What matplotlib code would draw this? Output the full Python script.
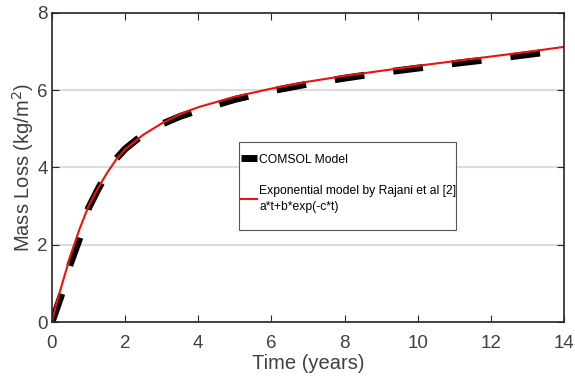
import matplotlib.pyplot as plt
from matplotlib.patches import Rectangle

plt.rcParams['font.family'] = ['Liberation Sans', 'DejaVu Sans']

# COMSOL model (black dashed)
t_comsol = [0, 0.25, 0.5, 0.75, 1, 1.25, 1.5, 1.75, 2, 2.5, 3, 3.5, 4, 5, 6, 7, 8, 9, 10, 11, 12, 13, 14]
m_comsol = [0, 0.68, 1.5, 2.15, 2.95, 3.42, 3.85, 4.22, 4.48, 4.86, 5.12, 5.32, 5.48, 5.76, 5.98, 6.16, 6.31, 6.45, 6.57, 6.69, 6.8, 6.92, 7.04]

# exponential fit (red)
t_fit = [0, 0.1, 0.25, 0.5, 0.75, 1, 1.25, 1.5, 1.75, 2, 2.5, 3, 3.5, 4, 5, 6, 7, 8, 9, 10, 11, 12, 13, 14]
m_fit = [0, 0.4, 0.9, 1.7, 2.4, 3.0, 3.45, 3.85, 4.2, 4.47, 4.85, 5.14, 5.38, 5.56, 5.83, 6.04, 6.22, 6.37, 6.5, 6.63, 6.75, 6.87, 6.99, 7.12]

fig = plt.figure(figsize=(5.75, 3.78), dpi=100)
ax = fig.add_axes([0.0904, 0.148, 0.8906, 0.818])

ax.plot(t_comsol, m_comsol, color='black', lw=5, dashes=(4.3, 4.2), label='COMSOL Model')
ax.plot(t_fit, m_fit, color='#ee1111', lw=1.5,
        label='Exponential model by Rajani et al [2]\na*t+b*exp(-c*t)')

ax.set_xlim(0, 14)
ax.set_ylim(0, 8)
ax.set_xticks(range(0, 15, 2))
ax.set_yticks(range(0, 9, 2))
ax.yaxis.grid(True, color='#dcdcdc', lw=1.5)
ax.set_axisbelow(True)
ax.tick_params(direction='in', top=True, right=True, length=5, labelsize=13.5,
               colors='#262626', labelcolor='#404040')
ax.tick_params(axis='x', pad=9)
ax.tick_params(axis='y', pad=3)
for s in ax.spines.values():
    s.set_color('#262626')
    s.set_linewidth(1.2)

ax.set_xlabel('Time (years)', fontsize=14.5, color='#404040', labelpad=2)
ax.set_ylabel('Mass Loss (kg/m$^2$)', fontsize=14.5, color='#404040', labelpad=1)

leg = ax.legend(loc='upper left', bbox_to_anchor=(0.369, 0.545), borderaxespad=0,
                fontsize=8.7, handlelength=1.3, handletextpad=0.2, frameon=False,
                borderpad=0, labelspacing=1.6)
for txt in leg.get_texts():
    txt.set_linespacing(1.45)

# legend frame
ax.add_patch(Rectangle((0.365, 0.298), 0.424, 0.285, transform=ax.transAxes,
                       facecolor='white', edgecolor='#555555', lw=0.8, zorder=4))
leg.set_zorder(5)

fig.savefig('out.png', dpi=100)
